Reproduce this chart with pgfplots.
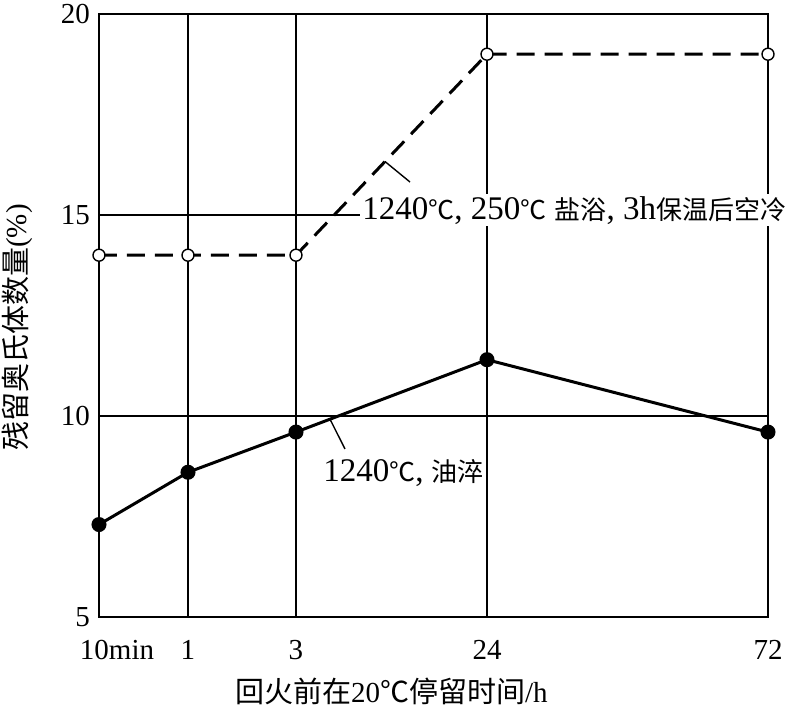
\documentclass[border=0pt]{standalone}
\usepackage{fontspec}
\setmainfont{Liberation Serif}
\newfontfamily\cjk{Noto Sans CJK SC}
\usepackage{pgfplots}
\pgfplotsset{compat=1.18}
\newcommand{\ann}{\fontsize{16.5pt}{19pt}\selectfont}
\newcommand{\anncjk}{\fontsize{13pt}{15pt}\selectfont\cjk}
\begin{document}
\begin{tikzpicture}[font=\fontsize{14.5pt}{17pt}\selectfont]
\begin{axis}[
  scale only axis,
  width=334.5pt, height=301.5pt,
  xmin=0, xmax=669, ymin=5, ymax=20,
  xtick={0,89,197,388,669},
  xticklabels={\hspace{18pt}10min,1,3,24,72},
  ytick={5,10,15,20},
  /pgf/number format/assume math mode=true,
  grid=major,
  major grid style={black, line width=0.8pt},
  axis line style={black, line width=0.8pt},
  major tick length=0pt,
  xticklabel style={yshift=-8pt},
  yticklabel style={xshift=-1pt},
  label style={font=\fontsize{16pt}{19pt}\selectfont},
  xlabel={{\cjk 回火前在}20{\cjk ℃停留时间}/h},
  ylabel={{\cjk 残留奥氏体数量}(\%)},
  every axis x label/.style={at={(axis description cs:0.437,-0.124)}, anchor=center},
  every axis y label/.style={at={(axis description cs:-0.1226,0.48)}, rotate=90, anchor=center},
  clip=false,
]
\addplot[black, line width=1.5pt, dash pattern=on 9pt off 5pt,
  mark=*, mark options={solid, fill=white, line width=0.7pt}, mark size=3pt]
  coordinates {(0,14) (89,14) (197,14) (388,19) (669,19)};
\addplot[black, line width=1.5pt, mark=*, mark options={fill=black}, mark size=3pt]
  coordinates {(0,7.3) (89,8.6) (197,9.6) (388,11.4) (669,9.6)};
\draw[black, line width=0.7pt] (axis cs:286,16.33) -- (axis cs:311,15.82);
\node[anchor=base west, fill=white, inner sep=1pt, font=\ann] at (axis cs:261,14.9)
  {1240{\anncjk ℃}, 250{\anncjk ℃} {\anncjk 盐浴}, 3h{\anncjk 保温后空冷}};
\draw[black, line width=0.7pt] (axis cs:231,9.92) -- (axis cs:246,9.18);
\node[anchor=base west, inner sep=1pt, font=\ann] at (axis cs:222,8.36)
  {1240{\anncjk ℃}, {\anncjk 油淬}};
\end{axis}
\pgfresetboundingbox
\path[use as bounding box] ([shift={(-49.5pt,-49pt)}]current axis.south west) rectangle ([shift={(12.5pt,7pt)}]current axis.north east);
\end{tikzpicture}
\end{document}
